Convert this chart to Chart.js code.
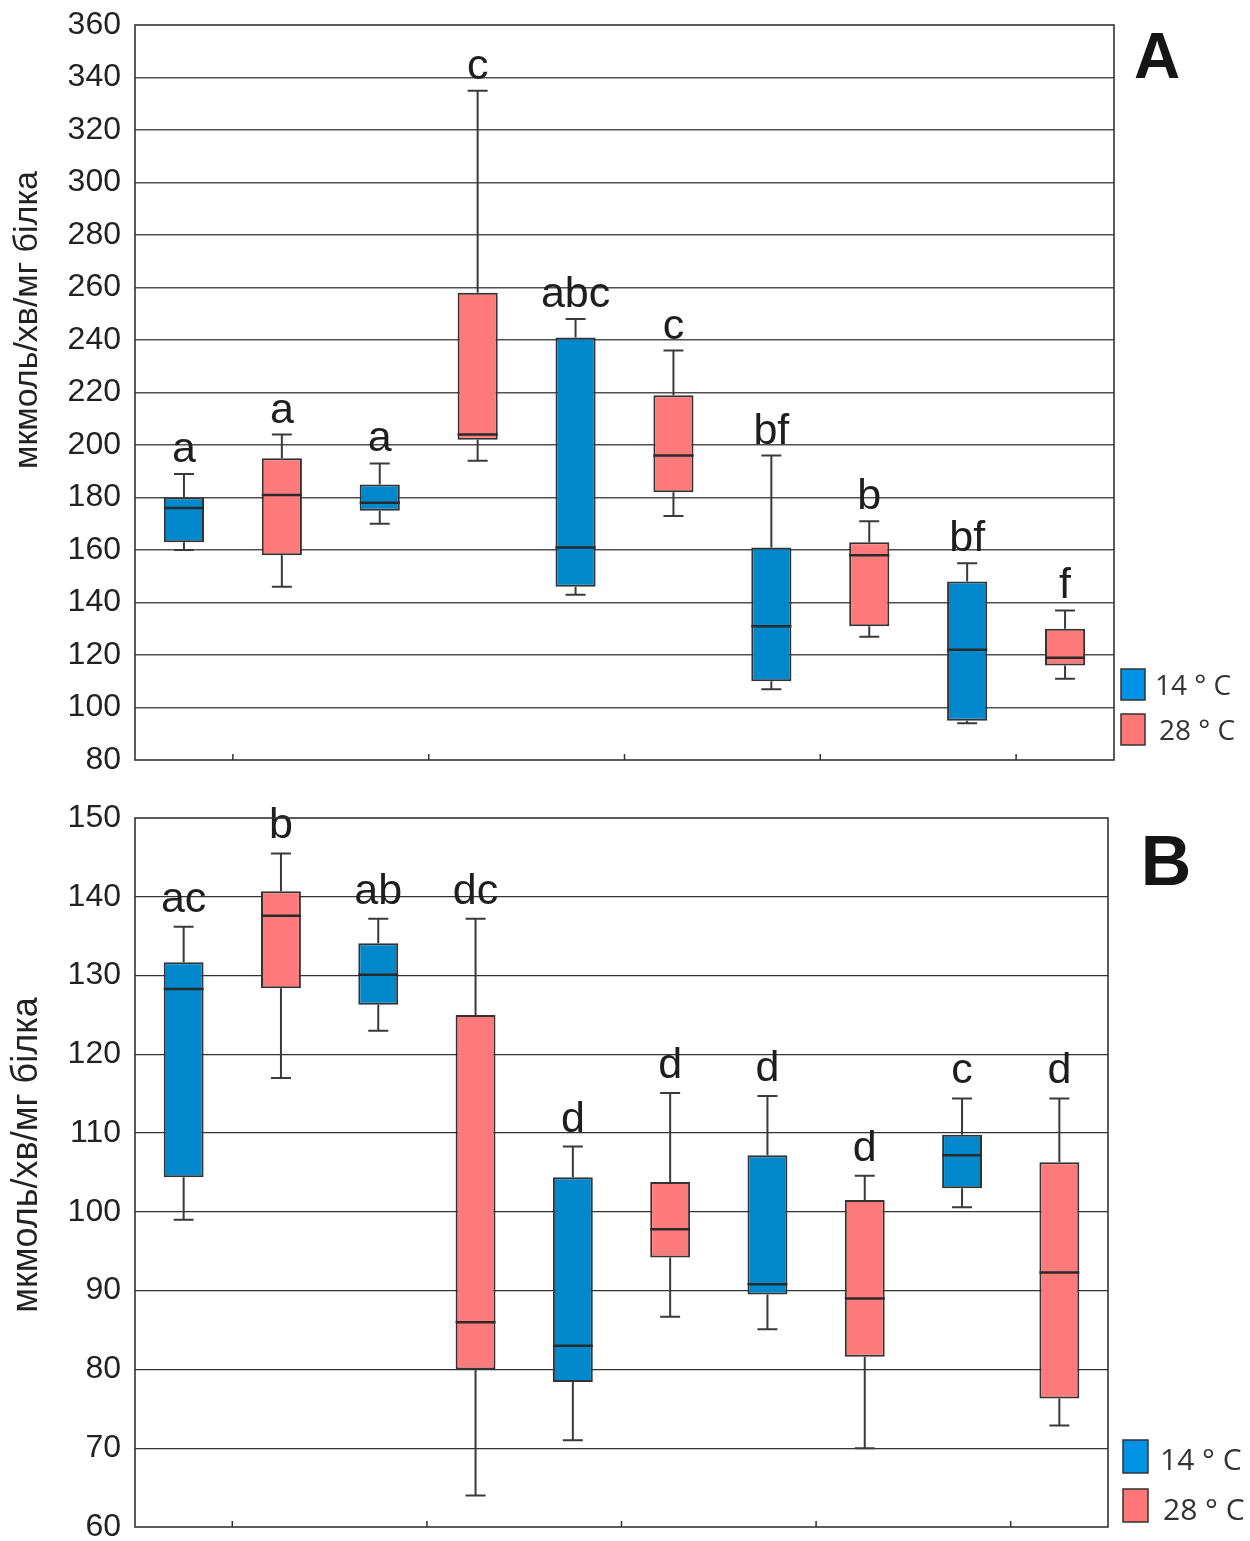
<!DOCTYPE html>
<html><head><meta charset="utf-8">
<script src="https://cdn.jsdelivr.net/npm/chart.js@4.4.1/dist/chart.umd.min.js"></script>
<style>
html,body{margin:0;padding:0;background:#fff;width:1250px;height:1541px;overflow:hidden}
canvas{position:absolute;left:0}
</style></head><body>
<canvas id="cA" width="1250" height="785" style="top:0"></canvas>
<canvas id="cB" width="1250" height="765" style="top:785px"></canvas>
<script>
// ---- data ----
const categories = ['1 (14 °C)','1 (28 °C)','2 (14 °C)','2 (28 °C)','3 (14 °C)','3 (28 °C)','4 (14 °C)','4 (28 °C)','5 (14 °C)','5 (28 °C)'];
const temps = ['14','28','14','28','14','28','14','28','14','28'];
const seriesNames = ['14 ° C','28 ° C'];
const axisTitle = 'мкмоль/хв/мг білка';

// Panel A
const minA = [160, 146, 170, 194, 143, 173, 107, 127, 94, 111];
const q1A  = [163, 158, 175, 202, 146, 182, 110, 131, 95, 116];
const medA = [176, 181, 178, 204, 161, 196, 131, 158, 122, 119];
const q3A  = [180, 195, 185, 258, 241, 219, 161, 163, 148, 130];
const maxA = [189, 204, 193, 335, 248, 236, 196, 171, 155, 137];
const lettersA = ['a','a','a','c','abc','c','bf','b','bf','f'];
const ticksA = {min: 80, max: 360, step: 20};

// Panel B
const minB = [99, 117, 123, 64, 71, 86.7, 85.1, 70, 100.6, 72.9];
const q1B  = [104.4, 128.4, 126.3, 80, 78.4, 94.2, 89.5, 81.6, 103, 76.3];
const medB = [128.3, 137.6, 130.1, 86, 83, 97.8, 90.8, 89, 107.2, 92.3];
const q3B  = [131.7, 140.7, 134.1, 125, 104.4, 103.8, 107.2, 101.5, 109.8, 106.3];
const maxB = [136.2, 145.5, 137.2, 137.2, 108.3, 115.1, 114.7, 104.6, 114.4, 114.4];
const lettersB = ['ac','b','ab','dc','d','d','d','d','c','d'];
const ticksB = {min: 60, max: 150, step: 10};

// ---- style ----
const BOX_COL = {'14': '#0088cc', '28': '#ff7b7b'};
const LEG_COL = {'14': '#0092e6', '28': '#ff7777'};

function makeChart(canvasId, d, L) {
  const extras = {
    id: 'boxExtras',
    afterDatasetsDraw(chart) {
      const ctx = chart.ctx, y = chart.scales.y, xs = chart.scales.x;
      const meta = chart.getDatasetMeta(0);
      const ca = chart.chartArea;
      ctx.save();
      meta.data.forEach((bar, i) => {
        const cx = bar.x, hw = bar.width / 2;
        const yMax = y.getPixelForValue(d.max[i]), yQ3 = y.getPixelForValue(d.q3[i]);
        const yMin = y.getPixelForValue(d.min[i]), yQ1 = y.getPixelForValue(d.q1[i]);
        const yMed = y.getPixelForValue(d.med[i]);
        ctx.strokeStyle = '#3a3a3a'; ctx.lineWidth = 2;
        ctx.beginPath();
        ctx.moveTo(cx, yQ3); ctx.lineTo(cx, yMax);
        ctx.moveTo(cx - 10, yMax); ctx.lineTo(cx + 10, yMax);
        ctx.moveTo(cx, yQ1); ctx.lineTo(cx, yMin);
        ctx.moveTo(cx - 10, yMin); ctx.lineTo(cx + 10, yMin);
        ctx.stroke();
        ctx.strokeStyle = '#2a2a2a'; ctx.lineWidth = 2.5;
        ctx.beginPath(); ctx.moveTo(cx - hw, yMed); ctx.lineTo(cx + hw, yMed); ctx.stroke();
        ctx.fillStyle = '#1e1e1e';
        ctx.font = '43px "Liberation Sans", Arial, sans-serif';
        ctx.textAlign = 'center'; ctx.textBaseline = 'alphabetic';
        ctx.fillText(d.letters[i], cx, yMax - L.gap);
      });
      ctx.strokeStyle = '#333'; ctx.lineWidth = 1.6;
      ctx.strokeRect(ca.left, ca.top, ca.right - ca.left, ca.bottom - ca.top);
      ctx.lineWidth = 1.5;
      ctx.beginPath();
      for (let k = 0; k + 1 < categories.length; k += 2) {
        const px = (xs.getPixelForValue(k) + xs.getPixelForValue(k + 1)) / 2;
        ctx.moveTo(px, ca.bottom); ctx.lineTo(px, ca.bottom - 6);
      }
      ctx.stroke();
      ctx.fillStyle = '#151515';
      ctx.font = 'bold ' + L.panelSize + 'px "Liberation Sans", Arial, sans-serif';
      ctx.textAlign = 'center';
      ctx.fillText(L.panel, L.panelX, L.panelY);
      ['14','28'].forEach((t, j) => {
        const sy = L.legY[j];
        ctx.fillStyle = LEG_COL[t];
        ctx.fillRect(L.legX, sy, L.legW, L.legH);
        ctx.strokeStyle = '#333'; ctx.lineWidth = 1.5;
        ctx.strokeRect(L.legX, sy, L.legW, L.legH);
        ctx.fillStyle = '#333';
        ctx.font = L.legFont + 'px "Open Sans", "Liberation Sans", sans-serif';
        ctx.textAlign = 'left';
        ctx.fillText(seriesNames[j], L.legTX[j], L.legTY[j]);
      });
      ctx.save();
      ctx.translate(L.titleX, L.titleY);
      ctx.rotate(-Math.PI / 2);
      ctx.fillStyle = '#222';
      ctx.font = L.titleSize + 'px "Liberation Sans", Arial, sans-serif';
      ctx.textAlign = 'center'; ctx.textBaseline = 'middle';
      ctx.fillText(axisTitle, 0, 0);
      ctx.restore();
      ctx.restore();
    }
  };
  return new Chart(document.getElementById(canvasId), {
    type: 'bar',
    data: {
      labels: categories,
      datasets: [{
        data: d.q1.map((v, i) => [v, d.q3[i]]),
        backgroundColor: temps.map(t => BOX_COL[t]),
        borderColor: '#333',
        borderWidth: 2,
        borderSkipped: false,
        barPercentage: 0.41,
        categoryPercentage: 1.0
      }]
    },
    options: {
      responsive: false,
      animation: false,
      devicePixelRatio: 1,
      layout: {padding: {left: 0, right: L.padR, top: L.padT, bottom: L.padB}},
      plugins: {legend: {display: false}, tooltip: {enabled: false}},
      scales: {
        x: {type: 'category', display: false},
        y: {
          min: d.ticks.min, max: d.ticks.max,
          afterFit(s) { s.width = 135; s.paddingTop = 0; s.paddingBottom = 0; },
          border: {display: false},
          grid: {
            drawTicks: false,
            lineWidth: L.gridW,
            color: c => (c.tick && (c.tick.value === d.ticks.min || c.tick.value === d.ticks.max)) ? 'rgba(0,0,0,0)' : L.gridC
          },
          ticks: {
            stepSize: d.ticks.step,
            padding: 14,
            color: '#222',
            font: {family: '"Liberation Sans", Arial, sans-serif', size: 32}
          }
        }
      }
    },
    plugins: [extras]
  });
}

makeChart('cA',
  {min: minA, q1: q1A, med: medA, q3: q3A, max: maxA, letters: lettersA, ticks: ticksA},
  {padR: 136, padT: 25, padB: 25, gap: 12, gridW: 1.5, gridC: '#505050',
   panel: 'A', panelSize: 64, panelX: 1157, panelY: 78,
   legX: 1121, legW: 24, legH: 31, legY: [669, 714], legTX: [1155, 1159], legTY: [695, 740], legFont: 28,
   titleX: 28, titleY: 320, titleSize: 34});

makeChart('cB',
  {min: minB, q1: q1B, med: medB, q3: q3B, max: maxB, letters: lettersB, ticks: ticksB},
  {padR: 142, padT: 33, padB: 23, gap: 15, gridW: 1.3, gridC: '#333',
   panel: 'B', panelSize: 70, panelX: 1166, panelY: 100,
   legX: 1123, legW: 25, legH: 33, legY: [655, 704], legTX: [1160, 1163], legTY: [685, 735], legFont: 30,
   titleX: 27, titleY: 370, titleSize: 36});
</script>
</body></html>
